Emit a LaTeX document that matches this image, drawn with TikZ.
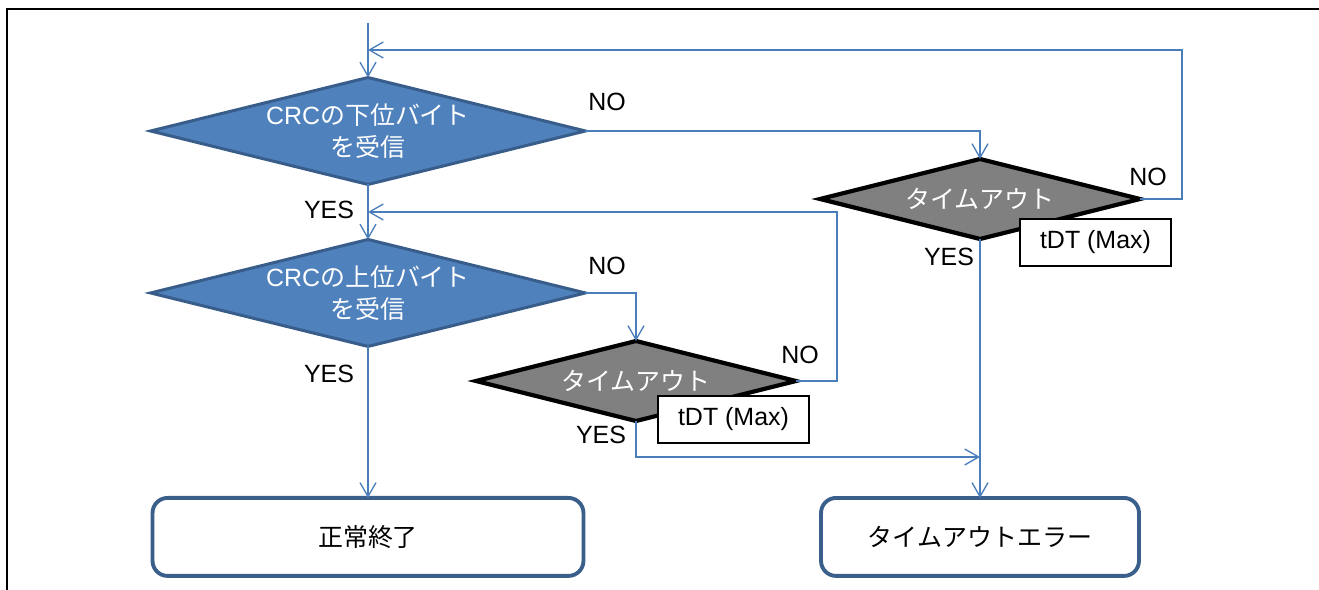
\documentclass[tikz,border=0pt]{standalone}
\usepackage{fontspec}
\setmainfont{Liberation Sans}
\newfontfamily\jpfont{Noto Sans CJK JP}
\usetikzlibrary{positioning}
\usetikzlibrary{shapes.geometric,arrows.meta}
\definecolor{decblue}{HTML}{4F81BD}
\definecolor{decedge}{HTML}{385D8A}
\definecolor{linkblue}{HTML}{4A7EBB}
\definecolor{decgray}{HTML}{808080}
\definecolor{termedge}{HTML}{3A5F8B}
\tikzset{
    %Define open arrow tip
    >={Straight Barb[length=0.28cm,width=0.32cm]},
    % Define flow line style
    flow/.style={
           ->,
           draw=linkblue,
           line width=0.75pt,}
}
\newcommand{\bluewidth}{8.7cm}
\newcommand{\blueheight}{2.14cm}
\newcommand{\graywidth}{6.4cm}
\newcommand{\grayheight}{1.6cm}
\newcommand{\termheight}{1.56cm}
\newcommand{\tdtwidth}{3.02cm}
\newcommand{\tdtheight}{0.94cm}
\newcommand{\jtext}[1]{{\jpfont #1}}

\begin{document}
\begin{tikzpicture}[x=0.02cm, y=-0.02cm, outer sep=0pt,
                    font=\fontsize{14.2pt}{18pt}\selectfont]
\tikzstyle{bdec}=[ diamond, aspect=4.07,
                  draw=decedge, line width=1.7pt,
                  fill=decblue,
                  minimum width=\bluewidth, minimum height=\blueheight,
                  inner sep=0pt]
\tikzstyle{gdec}=[ diamond, aspect=4,
                  draw=black, line width=2.4pt,
                  fill=decgray,
                  minimum width=\graywidth, minimum height=\grayheight,
                  inner sep=0pt]
\tikzstyle{dectxt}=[ text=white, align=center, inner sep=0pt]
\tikzstyle{term}=[ rectangle, rounded corners=0.3cm,
                  draw=termedge, line width=2.2pt,
                  fill=white,
                  minimum height=\termheight]
\tikzstyle{tdt}=[ rectangle,
                  draw=black, line width=0.9pt,
                  fill=white,
                  minimum width=\tdtwidth, minimum height=\tdtheight,
                  anchor=north west]
\tikzstyle{lab}=[ inner sep=0pt]

\useasboundingbox (0,0) rectangle (1319,590);
% page frame
\draw[line width=1.4pt] (1319,9) -- (7,9) -- (7,590);

\node[bdec] (crclo) at (368,131) {};
\node[dectxt] (crclotxt) at (crclo) {CRC\jtext{の下位バイト}\\\jtext{を受信}};
\node[bdec] (crchi) [below = 1.1cm of crclo] {};
\node[dectxt] (crchitxt) at (crchi) {CRC\jtext{の上位バイト}\\\jtext{を受信}};
\node[gdec] (tolo) at (980,199) {};
\node[dectxt] (tolotxt) at (tolo) {\jtext{タイムアウト}};
\node[gdec] (tohi) at (636,381) {};
\node[dectxt] (tohitxt) at (tohi) {\jtext{タイムアウト}};

\node[term, minimum width=8.62cm] (done) [below = 3.03cm of crchi] {\jtext{正常終了}};
\node[term, minimum width=6.36cm] (fail) [below = 5.18cm of tolo] {\jtext{タイムアウトエラー}};

\node[tdt] (tdtlo) at (1020,219) {tDT (Max)};
\node[tdt] (tdthi) at (658,396) {tDT (Max)};

\node[lab] (nolo)   at (607,102)  {NO};
\node[lab] (notolo) at (1148,177) {NO};
\node[lab] (nohi)   at (607,266)  {NO};
\node[lab] (notohi) at (800,355)  {NO};
\node[lab] (yeslo)   at (329,210) {YES};
\node[lab] (yestolo) at (949,257) {YES};
\node[lab] (yeshi)   at (329,374) {YES};
\node[lab] (yestohi) at (601,435) {YES};

\coordinate (start)   at (368,23);
\coordinate (backtop) at (368,50);
\coordinate (backmid) at (368,212);
\coordinate (toerr)   at (980,457);

\draw[flow] (start) -- (crclo.north);
\draw[flow] (crclo.south) -- (crchi.north);
\draw[flow] (crchi.south) -- (done.north);
\draw[flow] (tolo.south) -- (fail.north);

\draw[flow] (crclo.east) -| (tolo.north);
\draw[flow] (crchi.east) -| (tohi.north);

\draw[flow] (tolo.east) -- ++(42,0) |- (backtop);
\draw[flow] (tohi.east) -- ++(41,0) |- (backmid);
\draw[flow] (tohi.south) |- (toerr);

\end{tikzpicture}
\end{document}
